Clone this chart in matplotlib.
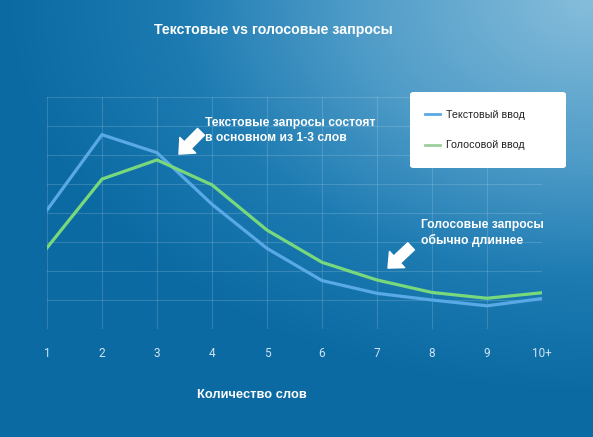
import numpy as np
import matplotlib
matplotlib.use("Agg")
import matplotlib.pyplot as plt
from matplotlib.colors import LinearSegmentedColormap
from matplotlib.patches import FancyBboxPatch

# данные
words = ["1", "2", "3", "4", "5", "6", "7", "8", "9", "10+"]
text_input = [4.1, 6.7, 6.08, 4.3, 2.78, 1.67, 1.23, 1.0, 0.8, 1.05]
voice_input = [2.8, 5.17, 5.83, 4.97, 3.41, 2.3, 1.69, 1.26, 1.06, 1.25]

plt.rcParams['font.family'] = ['Liberation Sans', 'DejaVu Sans']

fig = plt.figure(figsize=(5.93, 4.37), dpi=100)

# фон с градиентом (светлее в правом верхнем углу)
bg = fig.add_axes([0, 0, 1, 1], zorder=0)
gx, gy = np.meshgrid(np.linspace(0, 1, 300), np.linspace(0, 1, 220))
d = np.sqrt(((gx - 1.0) * 1.0) ** 2 + ((gy - 1.0) * 1.1) ** 2)
grad = np.clip(1 - d / 1.0, 0, 1)
cmap = LinearSegmentedColormap.from_list(
    "bg", [(0, "#0c6aa3"), (0.3, "#1d7bb2"), (0.6, "#4f9cc8"), (1, "#86bddb")])
bg.imshow(grad, cmap=cmap, origin="lower", aspect="auto", extent=[0, 1, 0, 1])
bg.axis("off")

ax = fig.add_axes([47 / 593, 108 / 437, 495 / 593, 232 / 437], zorder=1)
ax.patch.set_alpha(0)
x = np.arange(1, len(words) + 1)
ax.plot(x, text_input, color="#58a9e6", lw=2.3, label="Текстовый ввод", solid_joinstyle="miter")
ax.plot(x, voice_input, color="#78d97c", lw=2.3, label="Голосовой ввод", solid_joinstyle="miter")

ax.set_xlim(1, 10)
ax.set_ylim(0, 8)
ax.set_xticks(x)
ax.set_xticklabels(words, fontfamily="Roboto", fontsize=8.5, color="#cfe5f3")
ax.set_yticks(np.arange(0, 9))
ax.set_yticklabels([])
ax.tick_params(length=0, pad=13)
ax.grid(True, color="white", alpha=0.15, lw=0.8)
for s in ax.spines.values():
    s.set_visible(False)

# белая плашка легенды
box = FancyBboxPatch((410 / 593, 1 - 168 / 437), 156 / 593, 76 / 437,
                     boxstyle="round,pad=0,rounding_size=0.006",
                     transform=fig.transFigure, facecolor="white", edgecolor="none", zorder=2)
fig.patches.append(box)

leg = fig.legend(loc="upper left", bbox_to_anchor=(425 / 593, 1 - 110 / 437), frameon=False,
                 fontsize=7.7, handlelength=1.4, labelspacing=1.9,
                 borderpad=0, handletextpad=0.6, borderaxespad=0)
leg.set_zorder(3)
for t in leg.get_texts():
    t.set_color("#222222")
for h in leg.get_lines():
    h.set_linewidth(2)
leg.get_lines()[1].set_color("#9ccf9c")

fig.text(273 / 593, 1 - 30 / 437, "Текстовые vs голосовые запросы", ha="center", va="center",
         fontsize=10.2, fontweight="bold", color="white")
fig.text(252 / 593, 1 - 395 / 437, "Количество слов", ha="center", va="center",
         fontsize=9.3, fontweight="bold", color="white")

ax.text(3.87, 7.3, "Текстовые запросы состоят\nв основном из 1-3 слов", ha="left", va="top",
        fontsize=8.7, fontweight="bold", color="white", linespacing=1.3)
ax.text(7.8, 3.8, "Голосовые запросы\nобычно длиннее", ha="left", va="top",
        fontsize=8.7, fontweight="bold", color="white", linespacing=1.3)

arrow = dict(arrowstyle="simple,head_length=0.9,head_width=1.6,tail_width=0.7",
             color="white", shrinkA=0, shrinkB=0, mutation_scale=10)
ax.annotate("", xy=(3.4, 6.03), xytext=(3.8, 6.8), arrowprops=arrow)
ax.annotate("", xy=(7.2, 2.1), xytext=(7.62, 2.85), arrowprops=arrow)

fig.savefig("out.png", dpi=100)
